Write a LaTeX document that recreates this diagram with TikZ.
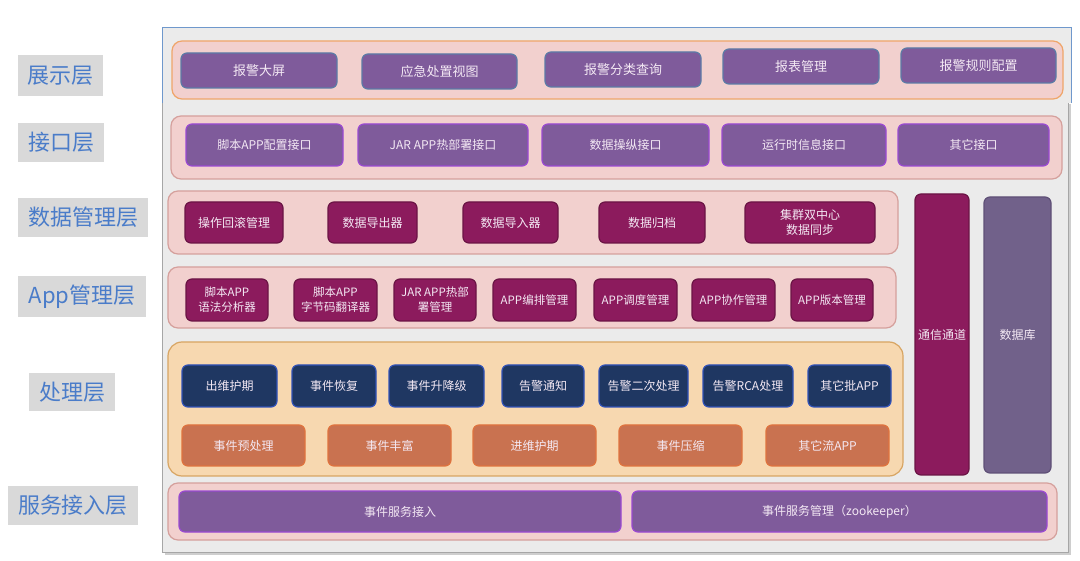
\documentclass[tikz,border=0pt]{standalone}
\usepackage{fontspec}
\setmainfont{Noto Sans CJK SC}
\definecolor{panelbg}{HTML}{EBEBEB}
\definecolor{panelline}{HTML}{A6A6A6}
\definecolor{frameblue}{HTML}{6F98CC}
\definecolor{rowpink}{HTML}{F2D0CE}
\definecolor{rowline}{HTML}{D5A09C}
\definecolor{toporange}{HTML}{EFA56A}
\definecolor{procbg}{HTML}{F7D8B0}
\definecolor{procline}{HTML}{D8A563}
\definecolor{purplebox}{HTML}{7F5B9B}
\definecolor{topedge}{HTML}{5C7BA6}
\definecolor{violetedge}{HTML}{9A49D2}
\definecolor{magentabox}{HTML}{8C1B5D}
\definecolor{magentaedge}{HTML}{6B1445}
\definecolor{navybox}{HTML}{1F3762}
\definecolor{navyedge}{HTML}{3152B8}
\definecolor{orangebox}{HTML}{C97250}
\definecolor{orangeedge}{HTML}{DF733E}
\definecolor{dbbox}{HTML}{71618A}
\definecolor{dbedge}{HTML}{5F5077}
\definecolor{lblgray}{HTML}{D9D9D9}
\definecolor{lbltext}{HTML}{4A7CC9}
\definecolor{btntext}{HTML}{F4E9F4}
\begin{document}
\begin{tikzpicture}[x=1pt, y=-1pt,
    lbl/.style={fill=lblgray, text=lbltext, inner sep=0pt, font=\fontsize{22}{24}\selectfont},
    rowbox/.style={fill=rowpink, draw=rowline, line width=1.2pt, rounded corners=10pt, inner sep=0pt},
    procrow/.style={fill=procbg, draw=procline, line width=1.2pt, rounded corners=14pt, inner sep=0pt},
    btn/.style={line width=1.2pt, rounded corners=6pt, inner sep=1pt, text=btntext, align=center, font=\fontsize{12}{15}\selectfont},
    topbtn/.style={btn, fill=purplebox, draw=topedge, font=\fontsize{13}{15}\selectfont},
    ifbtn/.style={btn, fill=purplebox, draw=violetedge},
    darkbtn/.style={btn, fill=magentabox, draw=magentaedge},
    navybtn/.style={btn, fill=navybox, draw=navyedge},
    orangebtn/.style={btn, fill=orangebox, draw=orangeedge},
    dbbtn/.style={btn, fill=dbbox, draw=dbedge}]
    \useasboundingbox (0,0) rectangle (1080,561);

    % Draw the panel
    \fill[panelline!55] (165,104) rectangle (1071,555);
    \draw[fill=panelbg, draw=panelline, line width=1pt] (162,28) rectangle (1068,552);
    \fill[panelbg] (162,28) rectangle (1071,103);
    \draw[frameblue, line width=1pt] (162,103) -- (162,28) -- (1071,28) -- (1071,103);

    % Layer labels
    \node[lbl, minimum width=85, minimum height=41] (lshow) at (60.5,75.5) {展示层};
    \node[lbl, minimum width=86, minimum height=39] (lapi) at (61,142.5) {接口层};
    \node[lbl, minimum width=130, minimum height=39] (ldata) at (83,217.5) {数据管理层};
    \node[lbl, minimum width=128, minimum height=41] (lapp) at (82,296.5) {App管理层};
    \node[lbl, minimum width=86, minimum height=38] (lproc) at (72,392) {处理层};
    \node[lbl, minimum width=130, minimum height=39] (lsvc) at (73,505.5) {服务接入层};

    % Draw the rows
    \node[rowbox, draw=toporange, minimum width=891, minimum height=58] (rshow) at (617.5,70) {};
    \node[rowbox, minimum width=891, minimum height=63] (rapi) at (616.5,147.5) {};
    \node[rowbox, minimum width=730, minimum height=63] (rdata) at (533,222.5) {};
    \node[rowbox, minimum width=728, minimum height=61] (rapp) at (532,297.5) {};
    \node[procrow, minimum width=735, minimum height=134] (rproc) at (535.5,409) {};
    \node[rowbox, minimum width=889, minimum height=57] (rsvc) at (612.5,511.5) {};

    % Display layer
    \node[topbtn, minimum width=156, minimum height=35] (show1) at (259,70.5) {报警大屏};
    \node[topbtn, minimum width=155, minimum height=35] (show2) at (439.5,71.5) {应急处置视图};
    \node[topbtn, minimum width=156, minimum height=35] (show3) at (623,69.5) {报警分类查询};
    \node[topbtn, minimum width=156, minimum height=35] (show4) at (801,66.5) {报表管理};
    \node[topbtn, minimum width=155, minimum height=35] (show5) at (978.5,65.5) {报警规则配置};

    % Interface layer
    \node[ifbtn, minimum width=157, minimum height=42] (api1) at (264.5,145) {脚本APP配置接口};
    \node[ifbtn, minimum width=170, minimum height=42] (api2) at (443,145) {JAR APP热部署接口};
    \node[ifbtn, minimum width=167, minimum height=42] (api3) at (625.5,145) {数据操纵接口};
    \node[ifbtn, minimum width=164, minimum height=42] (api4) at (804,145) {运行时信息接口};
    \node[ifbtn, minimum width=151, minimum height=42] (api5) at (973.5,145) {其它接口};

    % Data management layer
    \node[darkbtn, minimum width=98, minimum height=41] (data1) at (234,222.5) {操作回滚管理};
    \node[darkbtn, minimum width=89, minimum height=41] (data2) at (372.5,222.5) {数据导出器};
    \node[darkbtn, minimum width=95, minimum height=41] (data3) at (510.5,222.5) {数据导入器};
    \node[darkbtn, minimum width=106, minimum height=41] (data4) at (652,222.5) {数据归档};
    \node[darkbtn, minimum width=130, minimum height=41] (data5) at (810,222.5) {集群双中心\\数据同步};

    % App management layer
    \node[darkbtn, minimum width=82, minimum height=42, font=\fontsize{11.5}{15}\selectfont] (app1) at (227,300) {脚本APP\\语法分析器};
    \node[darkbtn, minimum width=83, minimum height=42, font=\fontsize{11.5}{15}\selectfont] (app2) at (335.5,300) {脚本APP\\字节码翻译器};
    \node[darkbtn, minimum width=82, minimum height=42, font=\fontsize{11.5}{15}\selectfont] (app3) at (435,300) {JAR APP热部\\署管理};
    \node[darkbtn, minimum width=83, minimum height=42, font=\fontsize{11.5}{15}\selectfont] (app4) at (534.5,300) {APP编排管理};
    \node[darkbtn, minimum width=83, minimum height=42, font=\fontsize{11.5}{15}\selectfont] (app5) at (635.5,300) {APP调度管理};
    \node[darkbtn, minimum width=83, minimum height=42, font=\fontsize{11.5}{15}\selectfont] (app6) at (733.5,300) {APP协作管理};
    \node[darkbtn, minimum width=82, minimum height=42, font=\fontsize{11.5}{15}\selectfont] (app7) at (832,300) {APP版本管理};

    % Processing layer, batch apps
    \node[navybtn, minimum width=95, minimum height=42] (batch1) at (229.5,386) {出维护期};
    \node[navybtn, minimum width=84, minimum height=42] (batch2) at (334,386) {事件恢复};
    \node[navybtn, minimum width=95, minimum height=42] (batch3) at (436.5,386) {事件升降级};
    \node[navybtn, minimum width=82, minimum height=42] (batch4) at (543,386) {告警通知};
    \node[navybtn, minimum width=89, minimum height=42] (batch5) at (643.5,386) {告警二次处理};
    \node[navybtn, minimum width=90, minimum height=42] (batch6) at (748,386) {告警RCA处理};
    \node[navybtn, minimum width=83, minimum height=42] (batch7) at (849.5,386) {其它批APP};

    % Processing layer, stream apps
    \node[orangebtn, minimum width=123, minimum height=41] (stream1) at (243.5,445.5) {事件预处理};
    \node[orangebtn, minimum width=123, minimum height=41] (stream2) at (389.5,445.5) {事件丰富};
    \node[orangebtn, minimum width=123, minimum height=41] (stream3) at (534.5,445.5) {进维护期};
    \node[orangebtn, minimum width=123, minimum height=41] (stream4) at (680.5,445.5) {事件压缩};
    \node[orangebtn, minimum width=123, minimum height=41] (stream5) at (827.5,445.5) {其它流APP};

    % Channel and database
    \node[darkbtn, minimum width=54, minimum height=281] (chan) at (942,334.5) {通信通道};
    \node[dbbtn, minimum width=67, minimum height=276] (db) at (1017.5,335) {数据库};

    % Service access layer
    \node[ifbtn, minimum width=442, minimum height=41] (svc1) at (400,511.5) {事件服务接入};
    \node[ifbtn, minimum width=415, minimum height=41] (svc2) at (839.5,511.5) {事件服务管理（zookeeper）};

\end{tikzpicture}
\end{document}
